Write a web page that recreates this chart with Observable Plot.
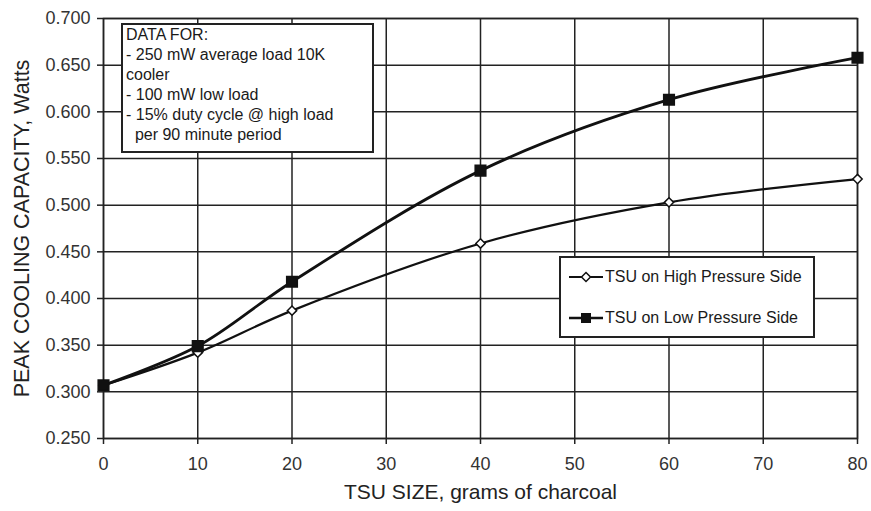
<!DOCTYPE html>
<html>
<head>
<meta charset="utf-8">
<script src="https://cdn.jsdelivr.net/npm/d3@7"></script>
<script src="https://cdn.jsdelivr.net/npm/@observablehq/plot@0.6"></script>
<style>
  html, body { margin: 0; padding: 0; background: #fff; }
  #wrap { position: relative; width: 871px; height: 511px; font-family: "Liberation Sans", Arial, sans-serif; }
  .box { position: absolute; background: #fff; border: 2px solid #222; color: #1a1a1a; }
  #note { left: 121px; top: 23px; width: 253px; height: 130px; font-size: 16px; line-height: 20px; padding: 0 0 0 3px; box-sizing: border-box; }
  #legend { left: 559px; top: 256px; width: 256px; height: 82px; font-size: 16px; box-sizing: border-box; }
  .li { position: absolute; left: 8px; display: flex; align-items: center; }
  .li svg { margin-right: 2px; }
</style>
</head>
<body>
<div id="wrap"></div>
<script>
const sizes = [0, 10, 20, 40, 60, 80];
const highSide = [0.307, 0.342, 0.387, 0.459, 0.503, 0.528];
const lowSide = [0.307, 0.349, 0.418, 0.537, 0.613, 0.658];
const xTicks = [0, 10, 20, 30, 40, 50, 60, 70, 80];
const yTicks = [0.25, 0.30, 0.35, 0.40, 0.45, 0.50, 0.55, 0.60, 0.65, 0.70];
const seriesNames = ["TSU on High Pressure Side", "TSU on Low Pressure Side"];
const noteLines = ["DATA FOR:", "- 250 mW average load 10K", "cooler", "- 100 mW low load", "- 15% duty cycle @ high load", "  per 90 minute period"];

const high = sizes.map((s, i) => ({x: s, y: highSide[i]}));
const low = sizes.map((s, i) => ({x: s, y: lowSide[i]}));

const chart = Plot.plot({
  width: 871,
  height: 511,
  marginLeft: 103,
  marginRight: 14,
  marginTop: 18,
  marginBottom: 73,
  style: {fontFamily: "Liberation Sans, Arial, sans-serif", fontSize: "18px", color: "#222", background: "#fff"},
  x: {domain: [0, 80], label: null},
  y: {domain: [0.25, 0.70], label: null},
  marks: [
    Plot.gridX(xTicks, {stroke: "#222", strokeOpacity: 1, strokeWidth: 1.5}),
    Plot.gridY(yTicks, {stroke: "#222", strokeOpacity: 1, strokeWidth: 1.5}),
    Plot.frame({stroke: "#222", strokeWidth: 1.5}),
    Plot.axisX(xTicks, {tickSize: 6, tickPadding: 13, stroke: "#222", strokeWidth: 1.5, fontSize: 18, fill: "#333", tickFormat: d => String(d), label: null}),
    Plot.axisY(yTicks, {tickSize: 6, tickPadding: 7, stroke: "#222", strokeWidth: 1.5, fontSize: 18, fill: "#333", tickFormat: d => d.toFixed(3), label: null}),
    Plot.line(high, {x: "x", y: "y", curve: "catmull-rom", stroke: "#111", strokeWidth: 2.2}),
    Plot.line(low, {x: "x", y: "y", curve: "catmull-rom", stroke: "#111", strokeWidth: 2.8}),
    Plot.dot(high, {x: "x", y: "y", symbol: "diamond2", r: 4.2, fill: "#fff", stroke: "#111", strokeWidth: 1.5}),
    Plot.dot(low, {x: "x", y: "y", symbol: "square", r: 6, fill: "#111", stroke: "#111"}),
    Plot.text(["TSU SIZE, grams of charcoal"], {frameAnchor: "bottom", dy: 60, fontSize: 21, fill: "#222"}),
    Plot.text(["PEAK COOLING CAPACITY, Watts"], {frameAnchor: "left", textAnchor: "middle", dx: -81, rotate: -90, fontSize: 21.5, fill: "#222"})
  ]
});

const wrap = document.getElementById("wrap");
wrap.appendChild(chart);

const note = document.createElement("div");
note.id = "note"; note.className = "box";
note.innerHTML = noteLines.map(l => `<div style="white-space:pre">${l}</div>`).join("");
wrap.appendChild(note);

const legend = document.createElement("div");
legend.id = "legend"; legend.className = "box";
const highIcon = `<svg width="34" height="12"><line x1="0" y1="6" x2="34" y2="6" stroke="#111" stroke-width="2"/><path d="M17 1.5 L21.5 6 L17 10.5 L12.5 6 Z" fill="#fff" stroke="#111" stroke-width="1.5"/></svg>`;
const lowIcon = `<svg width="34" height="12"><line x1="0" y1="6" x2="34" y2="6" stroke="#111" stroke-width="2.5"/><rect x="12" y="1" width="10" height="10" fill="#111"/></svg>`;
legend.innerHTML = `<div class="li" style="top:10px">${highIcon}<span>${seriesNames[0]}</span></div>` +
                   `<div class="li" style="top:51px">${lowIcon}<span>${seriesNames[1]}</span></div>`;
wrap.appendChild(legend);
</script>
</body>
</html>
